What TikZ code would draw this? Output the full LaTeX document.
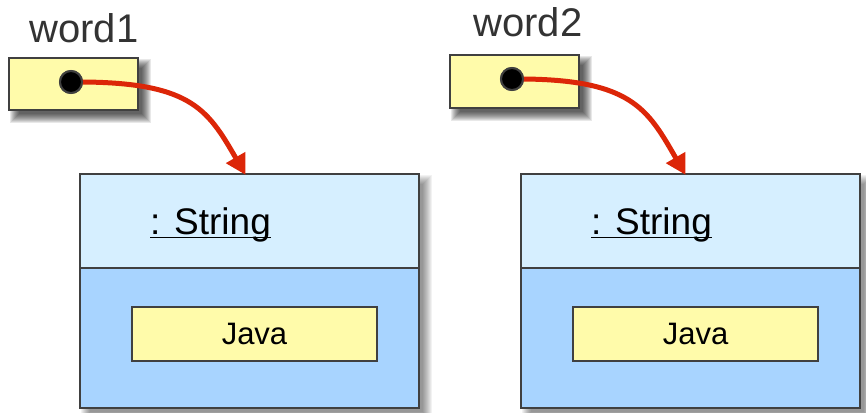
\documentclass[tikz,border=0pt]{standalone}
\usepackage{fontspec}
\setmainfont{Liberation Sans}
\usetikzlibrary{arrows.meta,calc}

\definecolor{slotyellow}{RGB}{255,251,170}
\definecolor{headblue}{RGB}{214,239,255}
\definecolor{bodyblue}{RGB}{168,212,255}
\definecolor{edgegray}{RGB}{64,64,64}
\definecolor{labelgray}{RGB}{51,51,51}
\definecolor{refred}{RGB}{220,38,8}

% soft drop shadow: stacked translucent rectangles offset down-right
% #5 = opacity of each layer
\newcommand{\softshadow}[5]{%
  \foreach \e in {6,5,4,3,2,1,0,-1,-2,-3}{%
    \fill[black,opacity=#5]
      ({#1+7-\e},{#2+7-\e}) rectangle ({#3+7+\e},{#4+7+\e});
  }%
}

\tikzset{
  varbox/.style={draw=edgegray, line width=2pt, fill=slotyellow},
  objframe/.style={draw=edgegray, line width=2pt},
  refdot/.style={circle, fill=black, draw=edgegray, line width=2pt,
    minimum size=22pt, inner sep=0pt},
  varname/.style={font=\fontsize{40}{44}\selectfont, text=labelgray,
    anchor=base, inner sep=0pt},
  typename/.style={font=\fontsize{37}{40}\selectfont, text=black,
    anchor=base west, inner sep=0pt},
  valuetext/.style={font=\fontsize{31}{34}\selectfont, text=black,
    inner sep=0pt},
  refarrow/.style={draw=refred, line width=5pt,
    -{Triangle[length=20pt,width=21pt]}, shorten >=-1pt},
}

\begin{document}
\begin{tikzpicture}[x=1pt,y=-1pt]
\useasboundingbox (0,0) rectangle (866,412);

% ---- shadows ----
\softshadow{9}{58}{138}{110}{0.09}
\softshadow{450}{55}{579}{108}{0.09}
\softshadow{80}{174}{419}{408}{0.05}
\softshadow{521}{174}{860}{408}{0.05}

% ---- reference variables ----
\node[varname] (w1label) at (84,43) {word1};
\node[varname] (w2label) at (528,37) {word2};
\draw[varbox] (9,58) rectangle (138,110);
\draw[varbox] (450,55) rectangle (579,108);
\node[refdot] (dot1) at (71,82) {};
\node[refdot] (dot2) at (512,79) {};

% ---- String objects ----
\foreach \ox/\nm in {80/obj1, 521/obj2}{
  \fill[headblue] (\ox,174) rectangle ({\ox+339},268);
  \fill[bodyblue] (\ox,268) rectangle ({\ox+339},408);
  \draw[objframe] (\ox,268) -- ({\ox+339},268);
  \draw[objframe] (\ox,174) rectangle ({\ox+339},408);
  \coordinate (\nm) at (\ox,174);
}

% inner value slots
\draw[varbox] (132,307) rectangle (377,361);
\draw[varbox] (573,307) rectangle (818,361);
\node[valuetext] (val1) at (254.5,334) {Java};
\node[valuetext] (val2) at (695.5,334) {Java};

% class labels, underlined through the descender
\node[typename] (type1) at (150,234) {: String};
\node[typename] (type2) at (591,234) {: String};
\draw[line width=1.6pt] ([yshift=-3.5pt]type1.base west) -- ([yshift=-3.5pt]type1.base east);
\draw[line width=1.6pt] ([yshift=-3.5pt]type2.base west) -- ([yshift=-3.5pt]type2.base east);

% ---- references ----
\coordinate (tip1) at ($(obj1)+(165,0)$);
\coordinate (tip2) at ($(obj2)+(164,0)$);
\draw[refarrow] (dot1.center) .. controls (190,81) and (207,108) .. (tip1);
\draw[refarrow] (dot2.center) .. controls (631,78) and (647,108) .. (tip2);
\node[refdot] at (dot1) {};
\node[refdot] at (dot2) {};
\end{tikzpicture}
\end{document}
